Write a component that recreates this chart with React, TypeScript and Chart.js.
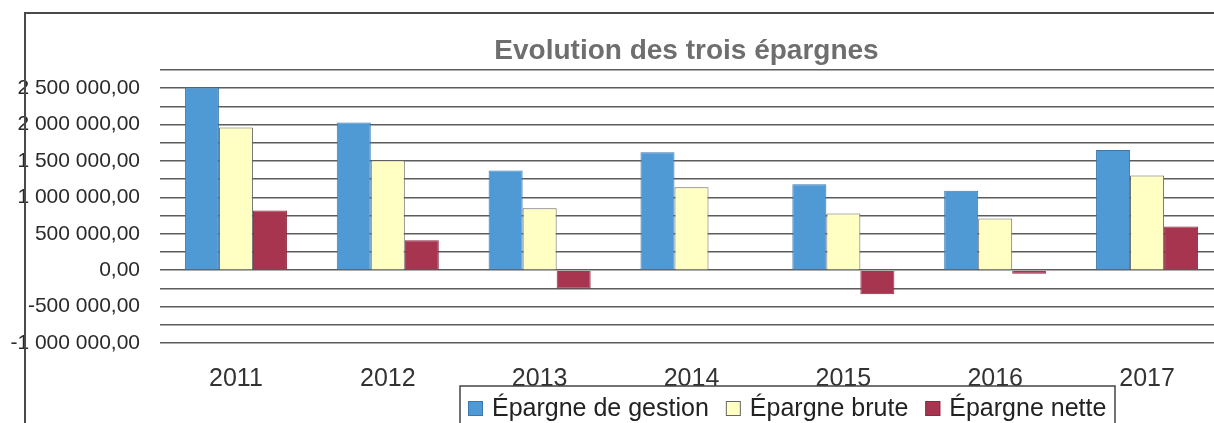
import React, { useEffect, useRef } from "react";
import { Chart, registerables } from "chart.js";

Chart.register(...registerables);

const TITLE = "Evolution des trois épargnes";
const YEARS = ["2011", "2012", "2013", "2014", "2015", "2016", "2017"];
const SERIES_NAMES = ["Épargne de gestion", "Épargne brute", "Épargne nette"];
const EPARGNE_GESTION = [2510000, 2030000, 1370000, 1620000, 1180000, 1090000, 1650000];
const EPARGNE_BRUTE = [1960000, 1510000, 850000, 1140000, 780000, 710000, 1300000];
const EPARGNE_NETTE = [820000, 410000, -250000, -10000, -330000, -50000, 600000];
const Y_MIN = -1000000;
const Y_MAX = 2750000;
const Y_STEP = 250000;
const Y_LABEL_STEP = 500000;

const FILLS = ["#4f99d4", "#ffffc4", "#a8354f"];
const BORDERS = ["#3b78ad", "#666666", "#8c2a42"];

function fmt(v: number): string {
  const neg = v < 0;
  const s = Math.round(Math.abs(v)).toString();
  let out = "";
  for (let i = 0; i < s.length; i++) {
    const fromEnd = s.length - i;
    out += s[i];
    if (fromEnd > 1 && (fromEnd - 1) % 3 === 0) out += " ";
  }
  return (neg ? "-" : "") + out + ",00";
}

const decorPlugin = {
  id: "decor",
  afterDraw(chart: any) {
    const ctx = chart.ctx as CanvasRenderingContext2D;
    ctx.save();
    // outer frame (top and left edges)
    ctx.strokeStyle = "#4a4a4a";
    ctx.lineWidth = 2;
    ctx.beginPath();
    ctx.moveTo(25, 423);
    ctx.lineTo(25, 13);
    ctx.lineTo(chart.width, 13);
    ctx.stroke();

    // title
    ctx.font = "bold 28px 'Liberation Sans', Arial, sans-serif";
    ctx.fillStyle = "#6e6e6e";
    ctx.textAlign = "center";
    ctx.textBaseline = "alphabetic";
    ctx.fillText(TITLE, 686.5, 59);

    // legend
    const boxL = 460, boxT = 386, boxR = 1115;
    ctx.fillStyle = "#ffffff";
    ctx.fillRect(boxL, boxT, boxR - boxL, 60);
    ctx.strokeStyle = "#444444";
    ctx.lineWidth = 1.5;
    ctx.strokeRect(boxL, boxT, boxR - boxL, 60);

    ctx.font = "25px 'Liberation Sans', Arial, sans-serif";
    ctx.textAlign = "left";
    let x = 468;
    chart.data.datasets.forEach((ds: any) => {
      ctx.fillStyle = ds.backgroundColor;
      ctx.fillRect(x, 401, 15, 15);
      ctx.strokeStyle = ds.borderColor;
      ctx.lineWidth = 1;
      ctx.strokeRect(x + 0.5, 401.5, 14, 14);
      const tx = x + 24;
      ctx.fillStyle = "#222222";
      ctx.fillText(ds.label, tx, 416);
      x = tx + ctx.measureText(ds.label).width + 17;
    });
    ctx.restore();
  },
};

export default function App() {
  const ref = useRef<HTMLCanvasElement | null>(null);

  useEffect(() => {
    if (!ref.current) return;
    const data = [EPARGNE_GESTION, EPARGNE_BRUTE, EPARGNE_NETTE];
    const chart = new Chart(ref.current, {
      type: "bar",
      data: {
        labels: YEARS,
        datasets: SERIES_NAMES.map((name, i) => ({
          label: name,
          data: data[i],
          backgroundColor: FILLS[i],
          borderColor: BORDERS[i],
          borderWidth: 1,
          categoryPercentage: 0.672,
          barPercentage: 1,
        })),
      },
      options: {
        animation: false,
        responsive: false,
        devicePixelRatio: 1,
        layout: { padding: { top: 70, left: 0, right: 7, bottom: 0 } },
        plugins: {
          legend: { display: false },
          title: { display: false },
          tooltip: { enabled: false },
        },
        scales: {
          x: {
            grid: { display: false, drawTicks: false },
            border: { display: false },
            ticks: {
              color: "#333333",
              padding: 21,
              font: { size: 25, family: "'Liberation Sans', Arial, sans-serif" },
            },
            afterFit: (scale: any) => {
              scale.height = 80;
            },
          },
          y: {
            min: Y_MIN,
            max: Y_MAX,
            grid: { color: "#5c5c5c", lineWidth: 1.5, drawTicks: false },
            border: { display: false },
            ticks: {
              stepSize: Y_STEP,
              autoSkip: false,
              padding: 20,
              color: "#2a2a2a",
              font: { size: 21, family: "'Liberation Sans', Arial, sans-serif" },
              callback: (v: any) => (Number(v) % Y_LABEL_STEP === 0 ? fmt(Number(v)) : ""),
            },
            afterFit: (scale: any) => {
              scale.width = 160;
            },
          },
        },
      },
      plugins: [decorPlugin],
    });
    return () => chart.destroy();
  }, []);

  return (
    <div
      style={{
        position: "fixed",
        left: 0,
        top: 0,
        width: 1214,
        height: 423,
        overflow: "hidden",
        background: "#ffffff",
      }}
    >
      <canvas ref={ref} width={1230} height={423} style={{ display: "block" }} />
    </div>
  );
}
